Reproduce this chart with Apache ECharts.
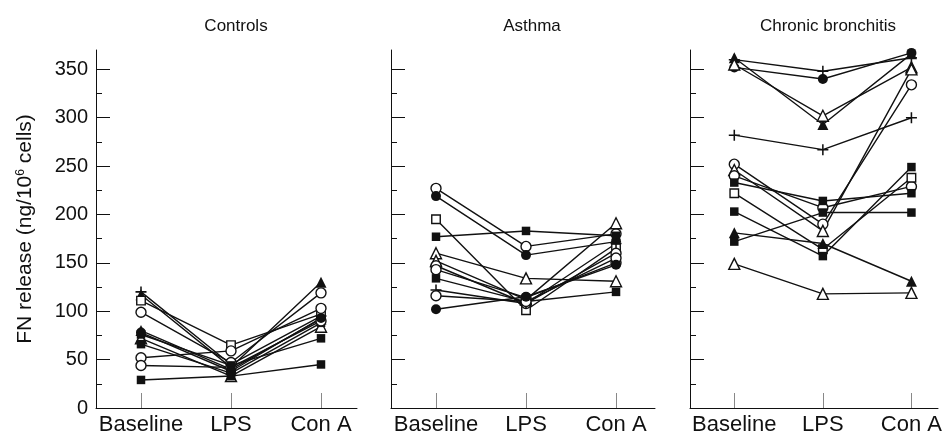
<!DOCTYPE html>
<html>
<head>
<meta charset="utf-8">
<script src="https://cdn.jsdelivr.net/npm/echarts@6/dist/echarts.min.js"></script>
<style>
html,body{margin:0;padding:0;background:#fff;}
#chart{width:945px;height:438px;}
</style>
</head>
<body>
<div id="chart"></div>
<script>
// ---------- data ----------
const categories = ['Baseline', 'LPS', 'Con A'];
const panelTitles = ['Controls', 'Asthma', 'Chronic bronchitis'];
const yMajorTicks = [0, 50, 100, 150, 200, 250, 300, 350];
const yMinorTicks = [25, 75, 125, 175, 225, 275, 325];
const yAxisName = 'FN release (ng/10{sup|6} cells)';

const controlsSymbols = ['plus', 'triFilled', 'squareOpen', 'circleOpen', 'triFilled', 'triOpen', 'squareFilled', 'circleOpen', 'circleOpen', 'squareFilled', 'squareFilled', 'circleFilled'];
const controlsValues = [
  [120, 45, 95],
  [117, 42, 130],
  [111, 65, 97],
  [99, 47, 119],
  [80, 40, 92],
  [72, 33, 84],
  [66, 36, 88],
  [52, 59, 103],
  [44, 42, 90],
  [29, 33, 45],
  [76, 44, 72],
  [78, 38, 93]
];

const asthmaSymbols = ['circleOpen', 'circleFilled', 'squareOpen', 'squareFilled', 'triOpen', 'triOpen', 'circleOpen', 'circleOpen', 'squareFilled', 'plus', 'circleOpen', 'circleFilled'];
const asthmaValues = [
  [227, 167, 180],
  [219, 158, 172],
  [195, 101, 165],
  [177, 183, 178],
  [160, 134, 131],
  [152, 112, 191],
  [147, 108, 160],
  [143, 114, 150],
  [134, 110, 120],
  [122, 108, 170],
  [116, 110, 155],
  [102, 115, 148]
];

const bronchitisSymbols = ['triFilled', 'plus', 'circleFilled', 'triOpen', 'plus', 'circleOpen', 'triOpen', 'circleOpen', 'squareFilled', 'squareOpen', 'squareFilled', 'triFilled', 'squareFilled', 'triOpen'];
const bronchitisValues = [
  [362, 293, 366],
  [360, 348, 362],
  [352, 340, 367],
  [355, 302, 352],
  [282, 267, 300],
  [252, 190, 334],
  [246, 183, 350],
  [240, 207, 229],
  [233, 214, 222],
  [222, 164, 238],
  [203, 157, 249],
  [181, 170, 131],
  [172, 202, 202],
  [149, 118, 119]
];

// ---------- chart ----------
const INK = '#111';
const FONT = '"Liberation Sans", Arial, Helvetica, sans-serif';
const panelSymbols = [controlsSymbols, asthmaSymbols, bronchitisSymbols];
const panelValues = [controlsValues, asthmaValues, bronchitisValues];

const gridLefts = [96, 391, 690];
const gridWidths = [261, 264, 252];
const xMaxs = [2.4, 2.433, 2.3];
const titleCenters = [231, 527, 823];

const plusPath = 'path://M0,4.3H10V5.7H0Z M4.3,0H5.7V10H4.3Z';
function symbolStyle(kind) {
  switch (kind) {
    case 'circleFilled': return { symbol: 'circle', size: 10, fill: INK };
    case 'circleOpen': return { symbol: 'circle', size: 10, fill: '#fff' };
    case 'squareFilled': return { symbol: 'rect', size: 8.5, fill: INK };
    case 'squareOpen': return { symbol: 'rect', size: 8.5, fill: '#fff' };
    case 'triFilled': return { symbol: 'triangle', size: 11, fill: INK };
    case 'triOpen': return { symbol: 'triangle', size: 11, fill: '#fff' };
    default: return { symbol: plusPath, size: 11, fill: INK };
  }
}

const grids = [], xAxes = [], yAxes = [], series = [], titles = [];
for (let p = 0; p < 3; p++) {
  grids.push({ left: gridLefts[p], width: gridWidths[p], top: 50, height: 358, containLabel: false });
  titles.push({
    text: panelTitles[p], left: titleCenters[p], top: 13, textAlign: 'center',
    textStyle: { fontFamily: FONT, fontSize: 17, fontWeight: 'normal', color: INK }
  });
  xAxes.push({
    type: 'value', gridIndex: p, min: -0.5, max: xMaxs[p], position: 'bottom',
    axisLine: { show: true, onZero: false, lineStyle: { color: INK, width: 1 } },
    axisTick: { show: true, inside: true, length: 15, customValues: [0, 1, 2], lineStyle: { color: '#888', width: 1 } },
    axisLabel: { show: true, customValues: [0, 1, 2], formatter: v => categories[Math.round(v)], fontFamily: FONT, fontSize: 22, color: INK, margin: 6 },
    splitLine: { show: false }
  });
  // major y axis
  yAxes.push({
    type: 'value', gridIndex: p, min: 0, max: 370, position: 'left',
    name: p === 0 ? yAxisName : '',
    nameLocation: 'middle', nameGap: 60, nameRotate: 90,
    nameTextStyle: {
      fontFamily: FONT, fontSize: 21, color: INK,
      rich: { sup: { fontFamily: FONT, fontSize: 12, color: INK, verticalAlign: 'top', lineHeight: 10 } }
    },
    axisLine: { show: true, onZero: false, lineStyle: { color: INK, width: 1 } },
    axisTick: { show: true, inside: true, length: 14, customValues: yMajorTicks, lineStyle: { color: INK, width: 1 } },
    axisLabel: { show: p === 0, customValues: yMajorTicks, fontFamily: FONT, fontSize: 20, color: INK, margin: 8 },
    splitLine: { show: false }
  });
  // minor y ticks
  yAxes.push({
    type: 'value', gridIndex: p, min: 0, max: 370, position: 'left',
    axisLine: { show: false, onZero: false },
    axisTick: { show: true, inside: true, length: 6, customValues: yMinorTicks, lineStyle: { color: INK, width: 1 } },
    axisLabel: { show: false },
    splitLine: { show: false }
  });

  const vals = panelValues[p];
  const syms = panelSymbols[p];
  vals.forEach((row, i) => {
    const data = row.map((v, j) => [j, v]);
    series.push({
      type: 'line', xAxisIndex: p, yAxisIndex: 2 * p, data: data,
      symbol: 'none', z: 2, silent: true,
      lineStyle: { color: INK, width: 1.4 }
    });
    const st = symbolStyle(syms[i]);
    series.push({
      type: 'scatter', xAxisIndex: p, yAxisIndex: 2 * p, data: data,
      symbol: st.symbol, symbolSize: st.size, z: 3, silent: true,
      itemStyle: { color: st.fill, borderColor: INK, borderWidth: st.fill === '#fff' ? 1.4 : 0, opacity: 1 }
    });
  });
}

const chart = echarts.init(document.getElementById('chart'), null, { renderer: 'canvas' });
chart.setOption({
  animation: false,
  backgroundColor: '#fff',
  title: titles,
  grid: grids,
  xAxis: xAxes,
  yAxis: yAxes,
  series: series
});
</script>
</body>
</html>
